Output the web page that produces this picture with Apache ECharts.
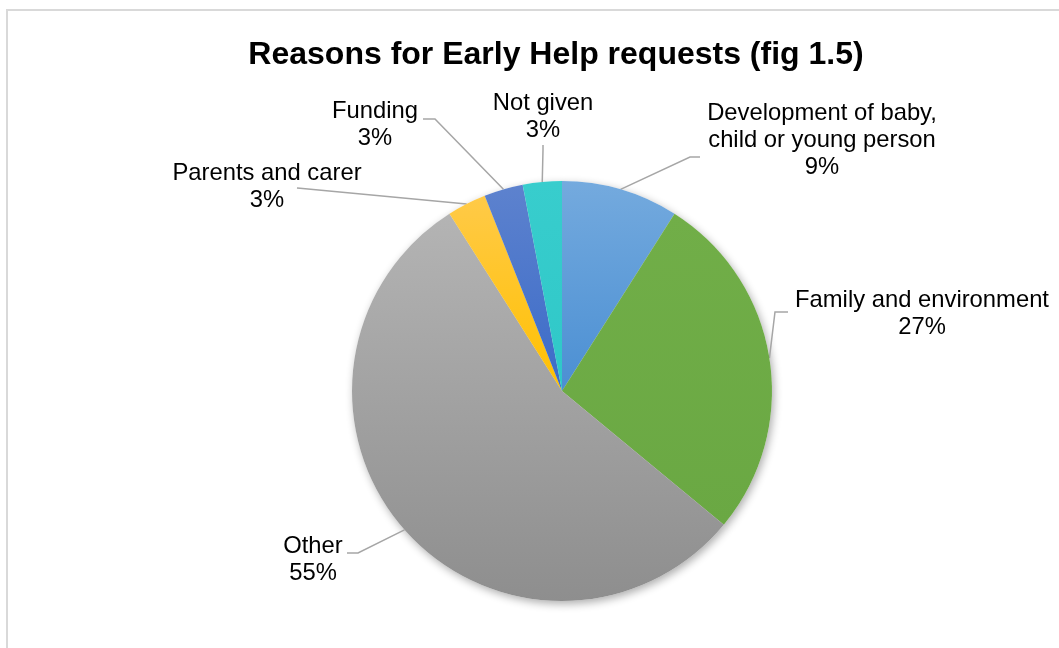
<!DOCTYPE html>
<html>
<head>
<meta charset="utf-8">
<script src="https://cdn.jsdelivr.net/npm/echarts@6/dist/echarts.min.js"></script>
<style>
  html, body { margin: 0; padding: 0; background: #fff; }
  #chart { width: 1059px; height: 648px; }
</style>
</head>
<body>
<div id="chart"></div>
<script>
// Reasons for Early Help requests, share of all requests (%)
const categories = [
  'Development of baby,\nchild or young person',
  'Family and environment',
  'Other',
  'Parents and carer',
  'Funding',
  'Not given'
];
const shares = [9, 27, 55, 3, 3, 3];

// Slice fills: top and bottom stops of a soft vertical gradient
const sliceColors = [
  ['#74aade', '#4b8fd3'],
  ['#71ae48', '#6aa843'],
  ['#b4b4b4', '#8e8e8e'],
  ['#ffca48', '#ffc000'],
  ['#5d82ce', '#3b6bc8'],
  ['#38cdcd', '#2fc8c8']
];

// Where each label block sits and how its leader line bends
const labelSpots = [
  { x: 822, y: 140, bend: [690, 157], end: [700, 157] },
  { x: 922, y: 314, bend: [775, 312], end: [788, 312] },
  { x: 313, y: 560, bend: [358, 553], end: [347, 553] },
  { x: 267, y: 187, bend: [300, 188.3], end: [297, 188] },
  { x: 375, y: 125, bend: [435, 119], end: [423, 119] },
  { x: 543, y: 117, bend: [543, 150], end: [543, 145] }
];

const FONT = "'Liberation Sans', Arial, Helvetica, sans-serif";
const PIE_CENTER = [562, 391];
const PIE_RADIUS = 210;

const chart = echarts.init(document.getElementById('chart'), null, { renderer: 'canvas' });

chart.setOption({
  backgroundColor: '#ffffff',
  animation: false,
  title: {
    text: 'Reasons for Early Help requests (fig 1.5)',
    left: 551,
    top: 34,
    textAlign: 'center',
    textStyle: { fontFamily: FONT, fontSize: 32, fontWeight: 'bold', color: '#000000' }
  },
  graphic: [{
    type: 'rect',
    silent: true,
    shape: { x: 7, y: 10, width: 1100, height: 700 },
    style: { fill: 'none', stroke: '#d9d9d9', lineWidth: 2 }
  }],
  series: [
    // soft drop shadow under the whole pie
    {
      type: 'pie',
      silent: true,
      z: 1,
      center: PIE_CENTER,
      radius: PIE_RADIUS,
      startAngle: 90,
      data: shares.map(v => ({ value: v })),
      itemStyle: {
        color: '#ffffff',
        borderWidth: 0,
        shadowBlur: 9,
        shadowOffsetX: 2,
        shadowOffsetY: 3,
        shadowColor: 'rgba(0,0,0,0.32)'
      },
      label: { show: false },
      labelLine: { show: false },
      emphasis: { disabled: true }
    },
    {
      type: 'pie',
      z: 2,
      center: PIE_CENTER,
      radius: PIE_RADIUS,
      startAngle: 90,
      clockwise: true,
      avoidLabelOverlap: false,
      data: categories.map((name, i) => ({
        name: name,
        value: shares[i],
        itemStyle: {
          color: {
            type: 'linear', x: 0, y: 0, x2: 0, y2: 1,
            colorStops: [
              { offset: 0, color: sliceColors[i][0] },
              { offset: 1, color: sliceColors[i][1] }
            ]
          }
        }
      })),
      itemStyle: { borderWidth: 0 },
      label: {
        show: true,
        position: 'outside',
        formatter: p => p.name + '\n' + Math.round(p.percent) + '%',
        fontFamily: FONT,
        fontSize: 23.8,
        lineHeight: 27,
        color: '#000000',
        align: 'center'
      },
      labelLine: {
        show: true,
        length: 10,
        length2: 10,
        lineStyle: { color: '#a6a6a6', width: 1.5 }
      },
      labelLayout: function (params) {
        const spot = labelSpots[params.dataIndex];
        const start = params.labelLinePoints ? params.labelLinePoints[0] : spot.bend;
        return {
          x: spot.x,
          y: spot.y,
          align: 'center',
          verticalAlign: 'middle',
          labelLinePoints: [start, spot.bend, spot.end]
        };
      },
      emphasis: { disabled: true }
    }
  ]
});
</script>
</body>
</html>
